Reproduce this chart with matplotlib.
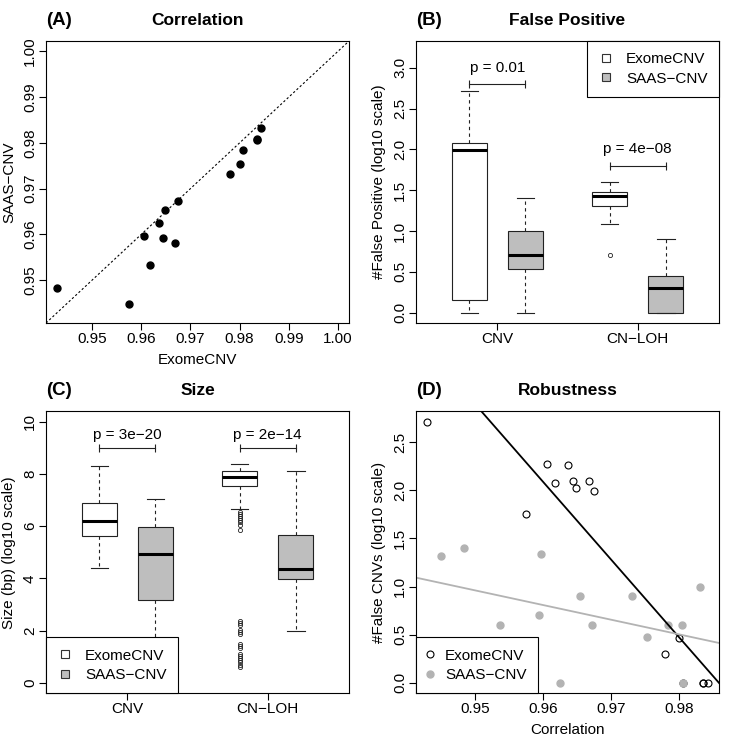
import numpy as np
import matplotlib
matplotlib.use("Agg")
import matplotlib.pyplot as plt
from matplotlib.lines import Line2D

plt.rcParams['font.family'] = ['Liberation Sans', 'DejaVu Sans']
plt.rcParams['font.size'] = 11

# per-sample correlation and log10 false CNVs
exome_corr = [0.9429, 0.9574, 0.9606, 0.9618, 0.9636, 0.9644, 0.9649, 0.9668,
              0.9675, 0.9780, 0.9801, 0.9806, 0.9836, 0.9836, 0.9843]
saas_corr = [0.9483, 0.9448, 0.9596, 0.9534, 0.9625, 0.9593, 0.9654, 0.9582,
             0.9672, 0.9731, 0.9753, 0.9784, 0.9806, 0.9808, 0.9832]
exome_fp = [2.71, 1.75, 2.27, 2.07, 2.26, 2.09, 2.02, 2.09,
            1.99, 0.30, 0.47, 0.0, 0.0, 0.0, 0.0]
saas_fp_x = [0.9449, 0.9483, 0.9536, 0.9584, 0.9594, 0.9597, 0.9625, 0.9654,
             0.9672, 0.9731, 0.9753, 0.9784, 0.9805, 0.9807, 0.9831]
saas_fp = [1.32, 1.40, 0.60, 0.30, 0.70, 1.34, 0.0, 0.90,
           0.60, 0.90, 0.48, 0.60, 0.60, 0.0, 1.00]

groups = ["CNV", "CN\u2212LOH"]
methods = ["ExomeCNV", "SAAS\u2212CNV"]

# box stats: (whislo, q1, med, q3, whishi)
fp_stats = [(0.0, 0.15, 1.99, 2.08, 2.71), (0.0, 0.54, 0.70, 1.00, 1.40),
            (1.08, 1.31, 1.43, 1.48, 1.60), (0.0, 0.0, 0.30, 0.45, 0.90)]
fp_fliers = [[], [], [0.70], []]
fp_pvals = ["p = 0.01", "p = 4e\u221208"]
fp_bracket = [2.8, 1.8]

size_stats = [(4.38, 5.64, 6.19, 6.90, 8.29), (1.65, 3.18, 4.94, 5.95, 7.06),
              (6.66, 7.53, 7.90, 8.11, 8.38), (1.98, 3.98, 4.36, 5.66, 8.13)]
size_fliers = [[], [],
               [6.55, 6.48, 6.40, 6.32, 6.25, 6.15, 6.05, 5.85,
                2.35, 2.28, 2.20, 2.02, 1.95, 1.88, 1.47, 1.40, 1.35,
                1.10, 1.02, 0.95, 0.86, 0.78, 0.70, 0.60], []]
size_pvals = ["p = 3e\u221220", "p = 2e\u221214"]
size_bracket = [9.0, 9.0]

pos = [1, 2, 3.5, 4.5]
fills = ["white", "#bebebe", "white", "#bebebe"]
saas_col = "#b3b3b3"


def rlim(lo, hi):
    d = (hi - lo) * 0.04
    return lo - d, hi + d


fig = plt.figure(figsize=(7.4, 7.4), dpi=100)
W, H = 0.4095, 0.3811
axA = fig.add_axes([0.0622, 0.5635, W, H])
axB = fig.add_axes([0.5622, 0.5635, W, H])
axC = fig.add_axes([0.0622, 0.0631, W, H])
axD = fig.add_axes([0.5622, 0.0631, W, H])

for ax, lab, title in [(axA, "(A)", "Correlation"), (axB, "(B)", "False Positive"),
                       (axC, "(C)", "Size"), (axD, "(D)", "Robustness")]:
    ax.tick_params(direction="out", length=5, width=0.8, pad=1.5, labelsize=11)
    for s in ax.spines.values():
        s.set_linewidth(0.8)
    ax.annotate(title, (0.5, 1), xycoords="axes fraction", xytext=(0, 15),
                textcoords="offset points", ha="center", va="center",
                fontsize=12.5, fontweight="bold")
    ax.annotate(lab, (0, 1), xycoords="axes fraction", xytext=(0, 15),
                textcoords="offset points", ha="left", va="center",
                fontsize=13.5, fontweight="bold")


def rot_yticks(ax):
    plt.setp(ax.get_yticklabels(), rotation=90, va="center")


# (A) correlation scatter
lims = rlim(min(exome_corr + saas_corr), 1.0)
axA.plot(lims, lims, ls=(0, (2, 2)), color="black", lw=0.8)
axA.plot(exome_corr, saas_corr, "o", color="black", ms=5)
axA.set_xlim(lims)
axA.set_ylim(lims)
ticks = [0.95, 0.96, 0.97, 0.98, 0.99, 1.00]
axA.set_xticks(ticks, ["%.2f" % t for t in ticks])
axA.set_yticks(ticks, ["%.2f" % t for t in ticks])
rot_yticks(axA)
axA.set_xlabel("ExomeCNV", labelpad=5)
axA.set_ylabel("SAAS\u2212CNV", labelpad=5)


def boxpanel(ax, stats, fliers, pvals, bracket, ylim, yticks, ylabels, ylabel, off):
    bx = []
    for st, fl in zip(stats, fliers):
        bx.append(dict(whislo=st[0], q1=st[1], med=st[2], q3=st[3], whishi=st[4], fliers=fl))
    parts = ax.bxp(bx, positions=pos, widths=0.62, patch_artist=True,
                   boxprops=dict(linewidth=0.8, edgecolor="#222222"),
                   medianprops=dict(color="black", linewidth=2.2),
                   whiskerprops=dict(linestyle=(0, (3, 3)), linewidth=0.8, color="#222222"),
                   capprops=dict(linewidth=0.8, color="#222222"),
                   flierprops=dict(marker="o", markersize=3, markerfacecolor="none",
                                   markeredgecolor="#222222", markeredgewidth=0.6),
                   capwidths=0.31)
    for p, c in zip(parts["boxes"], fills):
        p.set_facecolor(c)
    for i in range(2):
        x1, x2 = pos[2 * i], pos[2 * i + 1]
        ax.plot([x1, x2], [bracket[i]] * 2, color="#222222", lw=0.8,
                marker="|", ms=6, mew=0.8)
        ax.text((x1 + x2) / 2, bracket[i] + off, pvals[i], ha="center", va="center", fontsize=11)
    ax.set_xlim(0.053, 5.447)
    ax.set_ylim(ylim)
    ax.set_xticks([1.5, 4.0], groups)
    ax.set_yticks(yticks, ylabels)
    rot_yticks(ax)
    ax.set_ylabel(ylabel, labelpad=5)


leg_kw = dict(frameon=True, fancybox=False, framealpha=1, edgecolor="black",
              borderaxespad=0, fontsize=11, labelspacing=0.34, borderpad=0.75)


def add_legend(ax, handles, loc, hl, tp):
    lg = ax.legend(handles, methods, loc=loc, handlelength=hl, handletextpad=tp, **leg_kw)
    lg.get_frame().set_linewidth(0.8)


hB = [Line2D([], [], ls="none", marker="s", ms=6, mfc=c, mec="#333333", mew=0.8)
      for c in ["white", "#bebebe"]]

boxpanel(axB, fp_stats, fp_fliers, fp_pvals, fp_bracket, rlim(0, 3.2),
         [0, 0.5, 1, 1.5, 2, 2.5, 3], ["0.0", "0.5", "1.0", "1.5", "2.0", "2.5", "3.0"],
         "#False Positive (log10 scale)", 0.2)
add_legend(axB, hB, "upper right", 1.0, 0.8)

boxpanel(axC, size_stats, size_fliers, size_pvals, size_bracket, rlim(0, 10),
         [0, 2, 4, 6, 8, 10], ["0", "2", "4", "6", "8", "10"],
         "Size (bp) (log10 scale)", 0.5)
add_legend(axC, hB, "lower left", 1.0, 0.8)

# (D) robustness
axD.plot(exome_corr, exome_fp, "o", ms=5, mfc="none", mec="black", mew=0.8)
axD.plot(saas_fp_x, saas_fp, "o", ms=5, color=saas_col)
xl = rlim(min(exome_corr + saas_fp_x), max(exome_corr + saas_fp_x))
yl = rlim(0, max(exome_fp + saas_fp))
xx = np.array(xl)
k, b = np.polyfit(exome_corr, exome_fp, 1)
axD.plot(xx, k * xx + b, color="black", lw=1.3)
k, b = np.polyfit(saas_fp_x, saas_fp, 1)
axD.plot(xx, k * xx + b, color=saas_col, lw=1.3)
axD.set_xlim(xl)
axD.set_ylim(yl)
axD.set_xticks([0.95, 0.96, 0.97, 0.98], ["0.95", "0.96", "0.97", "0.98"])
axD.set_yticks([0, 0.5, 1, 1.5, 2, 2.5], ["0.0", "0.5", "1.0", "1.5", "2.0", "2.5"])
rot_yticks(axD)
axD.set_xlabel("Correlation", labelpad=5)
axD.set_ylabel("#False CNVs (log10 scale)", labelpad=5)
hD = [Line2D([], [], ls="none", marker="o", ms=5, mfc="none", mec="black", mew=0.8),
      Line2D([], [], ls="none", marker="o", ms=5, color=saas_col)]
add_legend(axD, hD, "lower left", 0.3, 0.85)

fig.savefig("out.png", dpi=100)
